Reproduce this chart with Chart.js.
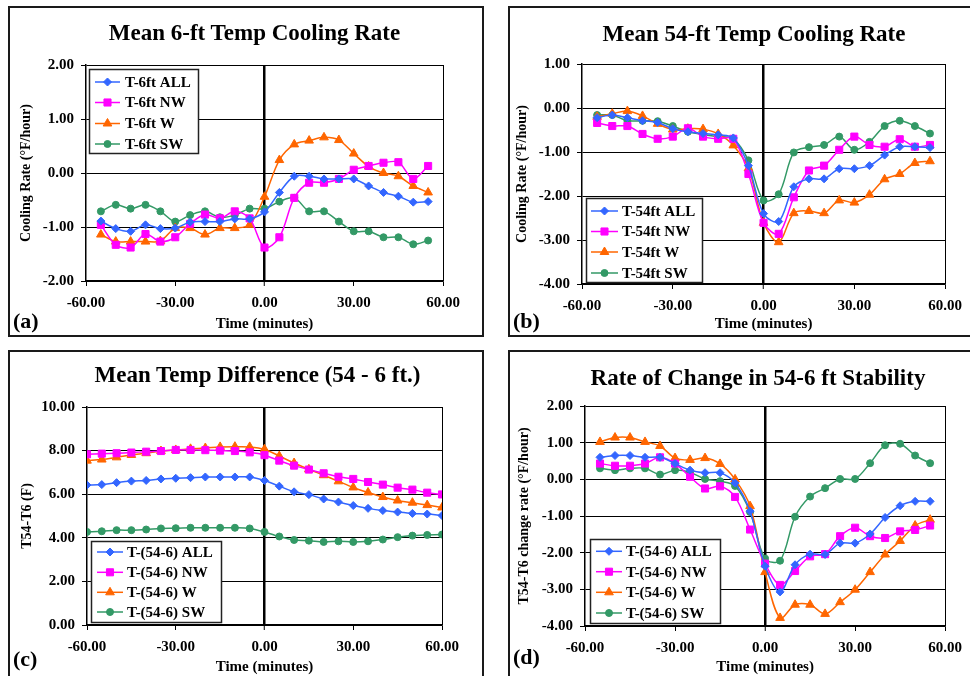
<!DOCTYPE html>
<html>
<head>
<meta charset="utf-8">
<script src="https://cdn.jsdelivr.net/npm/chart.js@4.4.1/dist/chart.umd.min.js"></script>
<style>
  html, body { margin:0; padding:0; background:#fff; }
  body { width:970px; height:676px; overflow:hidden; position:relative; font-family:"Liberation Serif", "Times New Roman", serif; }
  .box { position:absolute; box-sizing:border-box; border:2px solid #1a1a1a; }
  canvas { position:absolute; }
  .ttl { position:absolute; width:600px; text-align:center; font-weight:bold; font-size:23px; line-height:28px; color:#000; white-space:nowrap; }
  .lbl { position:absolute; font-weight:bold; font-size:22px; line-height:26px; color:#000; }
</style>
</head>
<body>
<div class="box" style="left:8px;top:6px;width:476px;height:331px"></div>
<div class="box" style="left:508px;top:6px;width:480px;height:331px"></div>
<div class="box" style="left:8px;top:350px;width:476px;height:340px"></div>
<div class="box" style="left:508px;top:350px;width:480px;height:340px"></div>

<canvas id="ca" width="474" height="330" style="left:9px;top:7px;width:474px;height:330px"></canvas>
<canvas id="cb" width="461" height="330" style="left:509px;top:7px;width:461px;height:330px"></canvas>
<canvas id="cc" width="474" height="330" style="left:9px;top:351px;width:474px;height:330px"></canvas>
<canvas id="cd" width="461" height="330" style="left:509px;top:351px;width:461px;height:330px"></canvas>

<div class="ttl" style="left:-45.5px;top:19px">Mean 6-ft Temp Cooling Rate</div>
<div class="ttl" style="left:454px;top:20px">Mean 54-ft Temp Cooling Rate</div>
<div class="ttl" style="left:-42.5px;top:361px">Mean Temp Difference (54 - 6 ft.)</div>
<div class="ttl" style="left:458px;top:364px">Rate of Change in 54-6 ft Stability</div>

<div class="lbl" style="left:13px;top:308px">(a)</div>
<div class="lbl" style="left:513px;top:308px">(b)</div>
<div class="lbl" style="left:13px;top:646px">(c)</div>
<div class="lbl" style="left:513px;top:644px">(d)</div>

<script>
// ---------------- DATA ----------------
const timeShort = [-55,-50,-45,-40,-35,-30,-25,-20,-15,-10,-5,0,5,10,15,20,25,30,35,40,45,50,55];
const timeFull  = [-60,-55,-50,-45,-40,-35,-30,-25,-20,-15,-10,-5,0,5,10,15,20,25,30,35,40,45,50,55,60];
const xTickValues = [-60,-30,0,30,60];

const labelsA = ["T-6ft ALL","T-6ft NW","T-6ft W","T-6ft SW"];
const labelsB = ["T-54ft ALL","T-54ft NW","T-54ft W","T-54ft SW"];
const labelsC = ["T-(54-6) ALL","T-(54-6) NW","T-(54-6) W","T-(54-6) SW"];
const labelsD = ["T-(54-6) ALL","T-(54-6) NW","T-(54-6) W","T-(54-6) SW"];

// (a) Mean 6-ft Temp Cooling Rate
const a_ALL = [-0.89,-1.03,-1.08,-0.96,-1.03,-1.02,-0.91,-0.90,-0.90,-0.85,-0.85,-0.72,-0.36,-0.06,-0.06,-0.11,-0.11,-0.11,-0.24,-0.36,-0.43,-0.54,-0.53];
const a_NW  = [-0.96,-1.33,-1.38,-1.13,-1.27,-1.19,-0.94,-0.77,-0.84,-0.71,-0.84,-1.38,-1.19,-0.46,-0.18,-0.18,-0.11,0.06,0.13,0.19,0.20,-0.11,0.13];
const a_W   = [-1.14,-1.27,-1.27,-1.27,-1.26,-1.02,-1.02,-1.14,-1.02,-1.02,-0.96,-0.44,0.24,0.53,0.60,0.66,0.61,0.36,0.12,0.00,-0.06,-0.24,-0.36];
const a_SW  = [-0.71,-0.59,-0.66,-0.59,-0.71,-0.90,-0.78,-0.71,-0.82,-0.78,-0.66,-0.66,-0.53,-0.46,-0.71,-0.71,-0.90,-1.08,-1.08,-1.19,-1.19,-1.32,-1.25];

// (b) Mean 54-ft Temp Cooling Rate
const b_ALL = [-0.22,-0.16,-0.22,-0.29,-0.33,-0.47,-0.54,-0.58,-0.61,-0.68,-1.31,-2.40,-2.58,-1.79,-1.61,-1.61,-1.38,-1.38,-1.31,-1.07,-0.88,-0.88,-0.90];
const b_NW  = [-0.34,-0.41,-0.41,-0.59,-0.70,-0.65,-0.46,-0.65,-0.70,-0.70,-1.50,-2.61,-2.86,-2.03,-1.42,-1.31,-0.95,-0.65,-0.84,-0.88,-0.71,-0.88,-0.84];
const b_W   = [-0.20,-0.13,-0.07,-0.18,-0.36,-0.49,-0.47,-0.48,-0.59,-0.85,-1.37,-2.61,-3.05,-2.39,-2.34,-2.39,-2.10,-2.15,-1.97,-1.62,-1.50,-1.25,-1.21];
const b_SW  = [-0.16,-0.16,-0.29,-0.29,-0.30,-0.41,-0.54,-0.60,-0.65,-0.70,-1.19,-2.10,-1.96,-1.01,-0.89,-0.84,-0.65,-0.95,-0.77,-0.41,-0.29,-0.41,-0.58];

// (c) Mean Temp Difference (54 - 6 ft.)
const c_ALL = [6.42,6.44,6.53,6.60,6.63,6.70,6.73,6.76,6.79,6.79,6.79,6.79,6.63,6.37,6.11,5.98,5.78,5.64,5.48,5.35,5.25,5.18,5.12,5.09,5.02];
const c_NW  = [7.83,7.86,7.88,7.91,7.95,7.98,8.03,8.03,8.02,8.00,7.98,7.92,7.79,7.54,7.31,7.13,6.96,6.80,6.70,6.56,6.44,6.30,6.21,6.07,5.99];
const c_W   = [7.54,7.59,7.69,7.80,7.88,7.98,8.03,8.08,8.12,8.17,8.18,8.17,8.06,7.75,7.43,7.14,6.87,6.59,6.31,6.08,5.87,5.71,5.61,5.50,5.39];
const c_SW  = [4.27,4.30,4.35,4.35,4.38,4.43,4.44,4.46,4.46,4.46,4.46,4.43,4.27,4.06,3.90,3.87,3.81,3.84,3.81,3.84,3.92,4.03,4.10,4.13,4.15];

// (d) Rate of Change in 54-6 ft Stability
const d_ALL = [0.60,0.65,0.65,0.60,0.60,0.43,0.25,0.18,0.18,-0.10,-0.87,-2.37,-3.07,-2.33,-2.04,-2.05,-1.74,-1.74,-1.49,-1.04,-0.72,-0.60,-0.60];
const d_NW  = [0.43,0.37,0.37,0.43,0.60,0.43,0.07,-0.25,-0.19,-0.48,-1.37,-2.30,-2.88,-2.50,-2.10,-2.04,-1.55,-1.32,-1.55,-1.60,-1.42,-1.38,-1.26];
const d_W   = [1.02,1.14,1.14,1.02,0.91,0.58,0.53,0.58,0.42,0.00,-0.73,-2.53,-3.78,-3.42,-3.42,-3.67,-3.35,-3.01,-2.53,-2.05,-1.68,-1.26,-1.10];
const d_SW  = [0.30,0.25,0.30,0.30,0.13,0.25,0.19,0.01,-0.05,-0.18,-0.89,-2.16,-2.22,-1.02,-0.47,-0.24,0.01,0.01,0.44,0.93,0.97,0.65,0.44];

// ---------------- STYLE ----------------
const COLORS = ["#3366FF","#FF00FF","#FF6600","#339966"];
const STYLES = ["rectRot","rect","triangle","circle"];
const RADII  = [4,5,5,3.5];
const FAMILY = "'Liberation Serif','Times New Roman',serif";

// legend geometry (canvas coords) keyed by canvas id
const LEGEND_GEOM = {
  ca: {x:80,   y:62,  w:109, h:84, rows:[75,95.5,116.5,137],   l0:86,  l1:111,   tx:116},
  cb: {x:77,   y:191, w:116, h:84, rows:[204,224.5,245,266],   l0:82,  l1:109,   tx:113},
  cc: {x:82,   y:190, w:130, h:81, rows:[201,221.3,241.3,261], l0:88,  l1:114,   tx:118},
  cd: {x:81,   y:188, w:130, h:84, rows:[200.3,220.7,241.3,262], l0:87, l1:113,  tx:117}
};

function drawMarker(ctx, style, r, x, y) {
  ctx.beginPath();
  if (style === 'circle') {
    ctx.arc(x, y, r, 0, Math.PI*2);
  } else if (style === 'rectRot') {
    ctx.moveTo(x - r, y); ctx.lineTo(x, y - r); ctx.lineTo(x + r, y); ctx.lineTo(x, y + r);
  } else if (style === 'rect') {
    const s = r * Math.SQRT1_2;
    ctx.rect(x - s, y - s, 2*s, 2*s);
  } else if (style === 'triangle') {
    const a = 2*Math.PI/3;
    ctx.moveTo(x, y - r);
    ctx.lineTo(x + Math.sin(a)*r, y - Math.cos(a)*r);
    ctx.lineTo(x + Math.sin(2*a)*r, y - Math.cos(2*a)*r);
  }
  ctx.closePath();
  ctx.fill();
  ctx.stroke();
}

const boxLegend = {
  id: 'boxLegend',
  afterDraw(chart) {
    const g = LEGEND_GEOM[chart.canvas.id];
    if (!g) return;
    const ctx = chart.ctx;
    ctx.save();
    ctx.fillStyle = '#fff';
    ctx.fillRect(g.x, g.y, g.w, g.h);
    ctx.strokeStyle = '#222';
    ctx.lineWidth = 1.5;
    ctx.strokeRect(g.x + 0.5, g.y + 0.5, g.w, g.h);
    chart.data.datasets.forEach((ds, i) => {
      const yy = g.rows[i];
      ctx.strokeStyle = ds.borderColor;
      ctx.lineWidth = 1.5;
      ctx.beginPath(); ctx.moveTo(g.l0, yy); ctx.lineTo(g.l1, yy); ctx.stroke();
      ctx.fillStyle = ds.backgroundColor;
      ctx.lineWidth = 1;
      drawMarker(ctx, ds.pointStyle, ds.pointRadius, (g.l0 + g.l1)/2, yy);
      ctx.fillStyle = '#000';
      ctx.font = "bold 15px " + FAMILY;
      ctx.textBaseline = 'middle';
      ctx.textAlign = 'left';
      ctx.fillText(ds.label, g.tx, yy + 1);
    });
    ctx.restore();
  }
};
Chart.register(boxLegend);

function makeChart(id, geom, xs, seriesList, labels, yMin, yMax, yStep, yTitle, yTitlePad, xTitlePad) {
  const datasets = seriesList.map((s, i) => ({
    label: labels[i],
    data: xs.map((x, j) => ({x: x, y: s[j]})),
    borderColor: COLORS[i],
    backgroundColor: COLORS[i],
    pointStyle: STYLES[i],
    pointRadius: RADII[i],
    pointBorderWidth: 1,
    pointBorderColor: COLORS[i],
    pointBackgroundColor: COLORS[i],
    borderWidth: 1.5,
    tension: 0.33,
    fill: false
  }));
  const tickFont = {family: FAMILY, size: 15, weight: 'bold'};
  return new Chart(document.getElementById(id), {
    type: 'line',
    data: {datasets: datasets},
    options: {
      responsive: false,
      animation: false,
      devicePixelRatio: 1,
      layout: {padding: {left: 0, top: geom.T, right: geom.W - geom.R, bottom: 0}},
      plugins: {legend: {display: false}, title: {display: false}, tooltip: {enabled: false}},
      scales: {
        x: {
          type: 'linear', min: -60, max: 60,
          afterBuildTicks: (s) => { s.ticks = xTickValues.map(v => ({value: v})); },
          ticks: {callback: (v) => Number(v).toFixed(2), font: tickFont, color: '#000', padding: 8, maxRotation: 0, autoSkip: false},
          grid: {
            color: (c) => (c.tick && (c.tick.value === 0 || c.tick.value === 60)) ? '#000' : 'rgba(0,0,0,0)',
            lineWidth: (c) => (c.tick && c.tick.value === 0) ? 2.5 : 1,
            tickLength: 5, tickColor: '#000', tickWidth: 1
          },
          border: {display: true, color: '#000', width: 1.5},
          title: {display: true, text: 'Time (minutes)', font: {family: FAMILY, size: 15, weight: 'bold'}, color: '#000', padding: {top: 0, bottom: xTitlePad}},
          afterFit: (s) => { s.height = geom.H - geom.B; }
        },
        y: {
          type: 'linear', min: yMin, max: yMax,
          ticks: {stepSize: yStep, callback: (v) => Number(v).toFixed(2), font: tickFont, color: '#000', padding: 7},
          grid: {color: '#000', lineWidth: 1, tickLength: 5, tickColor: '#000', tickWidth: 1},
          border: {display: true, color: '#000', width: 1.5},
          title: {display: true, text: yTitle, font: {family: FAMILY, size: 14, weight: 'bold'}, color: '#000', padding: {top: yTitlePad, bottom: 0}},
          afterFit: (s) => { s.width = geom.L; }
        }
      }
    }
  });
}

makeChart('ca', {W:474, H:330, L:77, R:434, T:58, B:274}, timeShort, [a_ALL,a_NW,a_W,a_SW], labelsA, -2, 2, 1, 'Cooling Rate (°F/hour)', 9, 4);
makeChart('cb', {W:461, H:330, L:73, R:439, T:57, B:277}, timeShort, [b_ALL,b_NW,b_W,b_SW], labelsB, -4, 1, 1, 'Cooling Rate (°F/hour)', 4.6, 4);
makeChart('cc', {W:474, H:330, L:78, R:433, T:56, B:274}, timeFull,  [c_ALL,c_NW,c_W,c_SW], labelsC, 0, 10, 2, 'T54-T6 (F)', 9.6, 5.3);
makeChart('cd', {W:461, H:330, L:76, R:437, T:55, B:275}, timeShort, [d_ALL,d_NW,d_W,d_SW], labelsD, -4, 2, 1, 'T54-T6 change rate (°F/hour)', 6.6, 5);
</script>
</body>
</html>
